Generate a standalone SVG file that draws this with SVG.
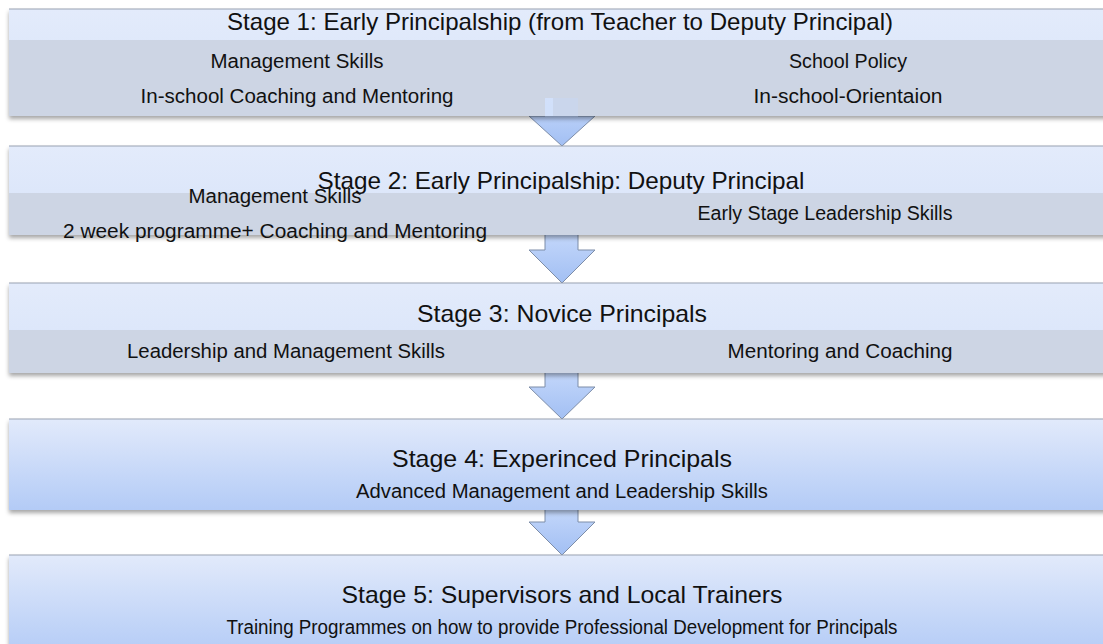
<svg xmlns="http://www.w3.org/2000/svg" width="1103" height="644" viewBox="0 0 1103 644">
<style>
.t{font-family:"Liberation Sans",Arial,sans-serif;font-size:24px;fill:#111;text-anchor:middle}
.s{font-family:"Liberation Sans",Arial,sans-serif;font-size:20px;fill:#111;text-anchor:middle}
.edge{fill:none;stroke:#9aa3b3;stroke-width:1}
.grey{fill:#cdd5e4}
.arrow{fill:url(#ag);stroke:#7d8da8;stroke-width:1}
</style>
<defs>
<linearGradient id="tb" x1="0" y1="0" x2="0" y2="1"><stop offset="0" stop-color="#e3ebfb"/><stop offset="1" stop-color="#d7e3f9"/></linearGradient>
<linearGradient id="fb" x1="0" y1="0" x2="0" y2="1"><stop offset="0" stop-color="#e2eafb"/><stop offset="1" stop-color="#b3cbf6"/></linearGradient>
<linearGradient id="ag" x1="0" y1="0" x2="0" y2="1"><stop offset="0" stop-color="#c6d9fb"/><stop offset="1" stop-color="#a2bff3"/></linearGradient>
<filter id="sh" x="-5%" y="-20%" width="110%" height="150%"><feDropShadow dx="0" dy="3" stdDeviation="2" flood-color="#000" flood-opacity="0.35"/></filter>
</defs>

<g id="connectors">
<path class="arrow" d="M545,98 V116 H529 L562,146 L595,116 H578 V98 Z"/>
<path class="arrow" d="M545,230 V250 H529 L562,283 L595,250 H578 V230 Z"/>
<path class="arrow" d="M545,368 V387 H529 L562,419 L595,387 H578 V368 Z"/>
<path class="arrow" d="M545,505 V522 H529 L562,555 L595,522 H578 V505 Z"/>
</g>

<g id="stage1">
<g filter="url(#sh)">
<rect x="9" y="9" width="1100" height="107" fill="url(#tb)"/>
<rect class="grey" x="9" y="40" width="536" height="76"/>
<rect class="grey" x="553" y="40" width="556" height="76"/>
<rect class="grey" x="545" y="40" width="8" height="58"/>
</g>
<rect x="545" y="98" width="33" height="18" fill="#c6d9fb" opacity="0.35"/>
<line class="edge" x1="9" y1="9" x2="1103" y2="9"/>
<text class="t" x="560" y="30" textLength="666" lengthAdjust="spacingAndGlyphs">Stage 1: Early Principalship (from Teacher to Deputy Principal)</text>
<text class="s" x="297" y="68" textLength="173" lengthAdjust="spacingAndGlyphs">Management Skills</text>
<text class="s" x="297" y="103" textLength="313" lengthAdjust="spacingAndGlyphs">In-school Coaching and Mentoring</text>
<text class="s" x="848" y="68" textLength="118" lengthAdjust="spacingAndGlyphs">School Policy</text>
<text class="s" x="848" y="103" textLength="189" lengthAdjust="spacingAndGlyphs">In-school-Orientaion</text>
</g>

<g id="stage2">
<g filter="url(#sh)">
<rect x="9" y="146" width="1100" height="89" fill="url(#tb)"/>
<rect class="grey" x="9" y="193" width="1100" height="42"/>
</g>
<line class="edge" x1="9" y1="146" x2="1103" y2="146"/>
<text class="t" x="561" y="189" textLength="487" lengthAdjust="spacingAndGlyphs">Stage 2: Early Principalship: Deputy Principal</text>
<text class="s" x="275" y="203" textLength="173" lengthAdjust="spacingAndGlyphs">Management Skills</text>
<text class="s" x="825" y="220" textLength="255" lengthAdjust="spacingAndGlyphs">Early Stage Leadership Skills</text>
<text class="s" x="275" y="238" textLength="424" lengthAdjust="spacingAndGlyphs">2 week programme+ Coaching and Mentoring</text>
</g>

<g id="stage3">
<g filter="url(#sh)">
<rect x="9" y="283" width="1100" height="90" fill="url(#tb)"/>
<rect class="grey" x="9" y="330" width="1100" height="43"/>
</g>
<line class="edge" x1="9" y1="283" x2="1103" y2="283"/>
<text class="t" x="562" y="322" textLength="290" lengthAdjust="spacingAndGlyphs">Stage 3: Novice Principals</text>
<text class="s" x="286" y="358" textLength="318" lengthAdjust="spacingAndGlyphs">Leadership and Management Skills</text>
<text class="s" x="840" y="358" textLength="225" lengthAdjust="spacingAndGlyphs">Mentoring and Coaching</text>
</g>

<g id="stage4">
<rect x="9" y="419" width="1100" height="91" fill="url(#fb)" filter="url(#sh)"/>
<line class="edge" x1="9" y1="419" x2="1103" y2="419"/>
<text class="t" x="562" y="467" textLength="340" lengthAdjust="spacingAndGlyphs">Stage 4: Experinced Principals</text>
<text class="s" x="562" y="498" textLength="412" lengthAdjust="spacingAndGlyphs">Advanced Management and Leadership Skills</text>
</g>

<g id="stage5">
<rect x="9" y="555" width="1100" height="100" fill="url(#fb)" filter="url(#sh)"/>
<line class="edge" x1="9" y1="555" x2="1103" y2="555"/>
<text class="t" x="562" y="603" textLength="441" lengthAdjust="spacingAndGlyphs">Stage 5: Supervisors and Local Trainers</text>
<text class="s" x="562" y="634" textLength="671" lengthAdjust="spacingAndGlyphs">Training Programmes on how to provide Professional Development for Principals</text>
</g>
</svg>
